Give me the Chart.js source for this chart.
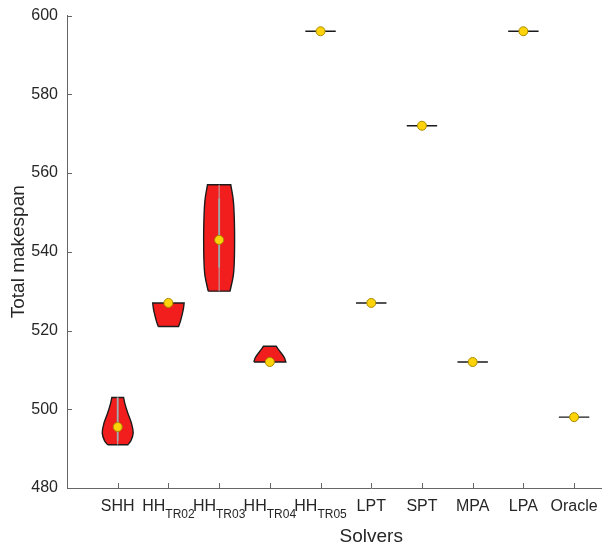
<!DOCTYPE html>
<html>
<head>
<meta charset="utf-8">
<script src="https://cdn.jsdelivr.net/npm/chart.js@4"></script>
<style>
  html, body { margin: 0; padding: 0; background: #ffffff; overflow: hidden; }
  #wrap { width: 681px; height: 548px; }
</style>
</head>
<body>
<div id="wrap"><canvas id="makespanChart" width="681" height="548"></canvas></div>
<script>
// Solver names (x axis), subscripts drawn after the main name
const solvers = ['SHH', 'HH', 'HH', 'HH', 'HH', 'LPT', 'SPT', 'MPA', 'LPA', 'Oracle'];
const solverSubs = ['', 'TR02', 'TR03', 'TR04', 'TR05', '', '', '', '', ''];

// Marker value for every solver (median of the runs)
const markerValues = [495.5, 527, 543, 512, 596, 527, 572, 512, 596, 498];

const yTicks = [480, 500, 520, 540, 560, 580, 600];

// Violin outlines: makespan levels and half widths (in category units)
const shhLevels = [491, 492, 494, 496.5, 499, 501.5, 503];
const shhWidths = [0.2, 0.26, 0.305, 0.27, 0.2, 0.14, 0.115];
const tr02Levels = [521, 522.5, 524, 525.5, 527];
const tr02Widths = [0.2, 0.24, 0.27, 0.295, 0.31];
const tr03Levels = [530, 534, 538, 543, 548, 553, 557];
const tr03Widths = [0.215, 0.28, 0.3, 0.305, 0.3, 0.28, 0.23];
const tr04Levels = [512, 513, 514, 515, 516];
const tr04Widths = [0.315, 0.29, 0.24, 0.18, 0.125];

// Whisker (full range) and box (interquartile) of the spread solvers
const shhWhisker = [491, 503];
const shhBox = [492, 503];
const tr03Whisker = [530, 557];
const tr03Box = [536, 553.5];

// Solvers with a single value get a flat bar of this half width
const flatHalfWidth = 0.3;

const fontFamily = "'Liberation Sans', Arial, sans-serif";
const textColor = '#262626';
const axisColor = '#666666';
const violinRed = '#f21d1d';
const markerYellow = '#ffd30a';

// Build a closed outline from the levels; corners are doubled so the
// flat ends stay sharp when the line is smoothed
function violinOutline(pos, levels, widths) {
    const pts = [];
    const n = levels.length;
    for (let i = 0; i < n; i++) {
        const p = {x: pos - widths[i], y: levels[i]};
        pts.push(p);
        if (i === 0 || i === n - 1) pts.push(p);
    }
    for (let i = n - 1; i >= 0; i--) {
        const p = {x: pos + widths[i], y: levels[i]};
        pts.push(p);
        if (i === 0 || i === n - 1) pts.push(p);
    }
    pts.push(pts[0]);
    pts.push(pts[0]);
    return pts;
}

function violinDataset(pos, levels, widths) {
    return {
        data: violinOutline(pos, levels, widths),
        borderColor: '#1c1c1c',
        borderWidth: 1.4,
        backgroundColor: violinRed,
        fill: 'shape',
        tension: 0.35,
        pointRadius: 0,
        order: 3
    };
}

function verticalLine(pos, range, color, width) {
    return {
        data: [{x: pos, y: range[0]}, {x: pos, y: range[1]}],
        borderColor: color,
        borderWidth: width,
        pointRadius: 0,
        fill: false,
        order: 2
    };
}

const datasets = [];

// Marker points, drawn on top of everything
datasets.push({
    data: markerValues.map((v, i) => ({x: i + 1, y: v})),
    showLine: false,
    pointRadius: 4.5,
    pointBackgroundColor: markerYellow,
    pointBorderColor: '#a88c00',
    pointBorderWidth: 1,
    order: 0
});

// Violins
datasets.push(violinDataset(1, shhLevels, shhWidths));
datasets.push(violinDataset(2, tr02Levels, tr02Widths));
datasets.push(violinDataset(3, tr03Levels, tr03Widths));
datasets.push(violinDataset(4, tr04Levels, tr04Widths));

// Gray centre lines inside the violins
datasets.push(verticalLine(1, shhWhisker, '#b4b4b4', 1));
datasets.push(verticalLine(1, shhBox, '#8f8f8f', 2));
datasets.push(verticalLine(3, tr03Whisker, '#b4b4b4', 1));
datasets.push(verticalLine(3, tr03Box, '#8f8f8f', 2));

// Flat bars for the single value solvers
for (let i = 4; i < solvers.length; i++) {
    const v = markerValues[i];
    datasets.push({
        data: [{x: i + 1 - flatHalfWidth, y: v}, {x: i + 1 + flatHalfWidth, y: v}],
        borderColor: '#1a1a1a',
        borderWidth: 1.4,
        pointRadius: 0,
        fill: false,
        order: 1
    });
}

// Inward tick marks and the solver labels with subscripts
const solverAxis = {
    id: 'solverAxis',
    afterDraw(chart) {
        const {ctx, chartArea, scales: {x, y}} = chart;
        ctx.save();
        ctx.strokeStyle = axisColor;
        ctx.lineWidth = 1;
        ctx.beginPath();
        yTicks.forEach(v => {
            const py = Math.round(y.getPixelForValue(v)) + 0.5;
            ctx.moveTo(chartArea.left, py);
            ctx.lineTo(chartArea.left + 5, py);
        });
        solvers.forEach((s, i) => {
            const px = Math.round(x.getPixelForValue(i + 1)) + 0.5;
            ctx.moveTo(px, chartArea.bottom);
            ctx.lineTo(px, chartArea.bottom - 5);
        });
        ctx.stroke();

        ctx.fillStyle = textColor;
        ctx.textBaseline = 'alphabetic';
        ctx.textAlign = 'left';
        const mainFont = '16px ' + fontFamily;
        const subFont = '12px ' + fontFamily;
        const baseY = chartArea.bottom + 23;
        solvers.forEach((s, i) => {
            ctx.font = mainFont;
            const w1 = ctx.measureText(s).width;
            ctx.font = subFont;
            const w2 = solverSubs[i] ? ctx.measureText(solverSubs[i]).width : 0;
            const left = x.getPixelForValue(i + 1) - (w1 + w2) / 2;
            ctx.font = mainFont;
            ctx.fillText(s, left, baseY);
            if (solverSubs[i]) {
                ctx.font = subFont;
                ctx.fillText(solverSubs[i], left + w1, baseY + 7);
            }
        });
        ctx.restore();
    }
};

const ctx = document.getElementById('makespanChart').getContext('2d');
const chart = new Chart(ctx, {
    type: 'line',
    data: {datasets: datasets},
    options: {
        responsive: false,
        animation: false,
        events: [],
        layout: {padding: {top: 15.5, right: 0, left: 0, bottom: 0}},
        plugins: {
            legend: {display: false},
            tooltip: {enabled: false}
        },
        scales: {
            x: {
                type: 'linear',
                min: 0,
                max: 12,
                grid: {display: false, drawTicks: false},
                border: {display: true, color: axisColor, width: 1},
                ticks: {display: false},
                title: {
                    display: true,
                    text: 'Solvers',
                    color: textColor,
                    font: {family: fontFamily, size: 19},
                    padding: {top: 0, bottom: 0}
                },
                afterFit(scale) { scale.height = 60; }
            },
            y: {
                type: 'linear',
                min: 480,
                max: 600,
                // tick length only spaces the labels off the axis; the
                // inward tick marks are drawn by the solverAxis plugin
                grid: {display: false, drawTicks: true, tickLength: 9},
                border: {display: true, color: axisColor, width: 1},
                ticks: {
                    stepSize: 20,
                    padding: 0,
                    color: textColor,
                    font: {family: fontFamily, size: 16}
                },
                title: {
                    display: true,
                    text: 'Total makespan',
                    color: textColor,
                    font: {family: fontFamily, size: 19},
                    padding: {top: 7, bottom: 0}
                },
                afterFit(scale) { scale.width = 67; }
            }
        }
    },
    plugins: [solverAxis]
});
</script>
</body>
</html>
